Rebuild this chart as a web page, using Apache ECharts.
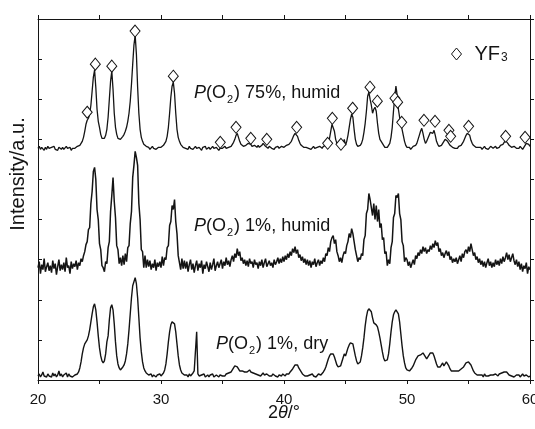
<!DOCTYPE html>
<html>
<head>
<meta charset="utf-8">
<script src="https://cdn.jsdelivr.net/npm/echarts@6/dist/echarts.min.js"></script>
<style>
html,body{margin:0;padding:0;background:#fff;}
#chart{width:535px;height:429px;}
</style>
</head>
<body>
<div id="chart"></div>
<script>
// Scan grid (2θ in degrees) used by all three patterns
const scanStart = 20;
const scanStep = 0.1;

// Plotted intensities (stacked, arbitrary units) sampled every 0.1° from 20° to 60°
const humid75 = [
231,233,230,232,231,229,232,230,233,231,
230,232,231,233,230,231,229,232,231,230,
232,230,231,233,231,230,232,229,231,232,
231,230,233,232,234,235,238,242,248,255,
259,261,265,274,288,302,309,292,270,258,
252,245,241,240,241,244,250,262,280,298,
308,290,266,252,245,241,240,240,241,243,
245,248,252,258,266,278,295,315,334,344,
325,292,266,250,242,238,235,234,233,232,
232,230,231,233,231,232,230,231,232,233,
232,233,234,235,238,243,252,266,282,293,
297,286,266,250,242,238,235,234,232,233,
231,232,230,233,231,232,230,231,233,231,
230,232,231,229,232,231,233,230,231,232,
230,231,233,231,230,232,231,229,231,232,
231,232,233,231,230,232,231,233,235,237,
240,244,246,242,238,235,234,233,232,234,
235,236,237,235,233,232,234,233,232,234,
232,233,234,236,235,233,232,231,233,232,
231,232,230,232,231,233,231,232,233,234,
232,233,234,233,235,236,238,241,244,246,
247,243,239,236,234,233,232,231,232,233,
231,232,230,231,233,231,230,232,231,233,
232,231,233,232,234,233,236,241,248,255,
256,248,240,236,234,233,232,233,236,240,
234,238,244,252,260,265,262,250,240,235,
233,232,234,236,240,247,256,268,283,287,
280,274,266,270,272,268,256,246,240,238,
236,234,232,231,232,233,236,242,252,268,
282,293,284,270,262,255,250,244,238,234,
232,231,232,230,231,233,232,234,236,240,
244,248,251,246,240,236,238,241,244,247,
248,246,249,244,238,235,233,232,234,236,
238,240,241,238,236,234,233,232,232,231,
232,231,233,232,234,236,238,241,244,246,
247,244,239,236,234,233,232,231,232,231,
232,230,231,233,231,232,230,231,233,232,
231,232,233,231,230,232,234,233,235,237,
239,238,236,234,233,232,231,233,232,231,
232,231,233,232,230,232,234,236,237,235,
233
];

const humid1 = [
112,118,106,115,110,121,108,113,117,109,
114,107,119,111,116,105,113,120,109,115,
110,117,108,122,112,114,106,118,111,116,
113,119,110,117,114,121,118,124,128,135,
138,150,152,176,188,208,212,200,170,160,
136,130,114,112,108,118,116,132,138,168,
184,202,178,162,134,130,116,122,114,124,
115,126,118,132,134,156,168,202,214,228,
222,214,176,160,130,128,112,124,112,120,
113,119,110,116,112,120,109,117,113,118,
112,123,114,122,120,132,134,154,158,174,
170,180,158,146,124,124,110,121,111,119,
111,118,108,115,120,110,116,107,114,119,
109,116,112,119,106,115,111,118,113,108,
117,110,115,121,109,114,118,112,116,120,
111,118,114,122,115,119,113,120,124,118,
126,122,131,124,128,119,122,116,120,114,
119,113,121,116,118,112,120,115,117,111,
118,114,120,112,117,121,113,116,119,114,
117,112,120,115,118,122,116,121,117,123,
118,124,120,126,122,128,124,131,127,133,
126,130,122,125,119,123,117,121,115,120,
114,119,112,118,115,121,113,117,120,114,
119,116,122,118,126,124,132,128,138,142,
144,136,140,128,124,118,122,117,124,128,
126,134,138,146,142,151,146,138,130,124,
118,122,120,126,124,140,144,166,170,186,
180,180,164,176,160,174,158,170,152,156,
140,142,126,128,114,120,116,132,138,162,
166,184,182,186,166,160,138,134,118,122,
120,114,118,112,116,120,115,124,121,127,
124,130,126,133,128,132,126,130,128,134,
130,136,132,139,134,137,128,131,124,127,
122,126,129,124,128,120,123,117,121,118,
122,116,120,124,118,126,122,128,130,126,
133,128,136,130,124,127,120,123,117,121,
115,119,113,118,112,117,121,114,118,112,
117,113,120,115,119,114,121,116,123,118,
122,127,120,125,118,122,126,119,115,120,
113,118,110,116,108,114,111,117,106,113,
110
];

const dry1 = [
4,6,3,5,8,4,5,3,6,4,
5,3,7,4,6,3,5,9,4,6,
3,5,4,7,3,6,4,5,3,4,
5,4,6,8,12,18,26,32,36,38,
40,44,50,58,66,73,76,70,58,44,
32,24,19,17,19,26,38,44,60,72,
75,70,56,38,24,16,12,10,11,13,
15,19,26,36,50,66,82,94,98,102,
96,82,62,42,28,18,12,9,7,6,
5,4,6,3,5,4,3,5,4,6,
4,5,7,10,16,26,38,48,55,58,
58,56,48,36,24,15,10,7,6,5,
4,5,3,6,4,5,7,9,8,48,
6,4,3,5,4,6,3,4,5,3,
5,4,6,3,4,5,4,3,5,6,
4,5,4,6,5,7,6,8,10,12,
14,15,13,11,9,8,9,10,8,9,
8,9,10,8,9,7,8,6,7,5,
6,4,5,7,5,4,6,5,4,5,
4,6,5,4,5,3,5,6,4,6,
5,4,6,7,6,8,9,11,13,15,
16,15,12,10,8,6,5,4,5,4,
3,5,4,6,4,5,3,4,6,5,
5,6,8,10,13,17,21,24,26,27,
26,23,19,15,13,12,14,18,22,26,
24,28,32,35,37,38,36,30,24,19,
16,15,18,24,32,42,54,63,69,71,
72,68,62,57,56,55,53,48,42,35,
28,22,19,18,20,26,36,48,58,65,
68,70,70,66,58,46,34,24,17,12,
10,9,9,10,12,14,17,20,22,24,
24,25,26,27,26,23,21,22,25,27,
28,27,24,20,16,13,12,13,15,17,
14,16,18,17,14,11,9,8,9,10,
9,8,9,10,11,12,13,15,17,18,
18,17,15,12,9,7,6,5,6,5,
4,5,3,6,4,5,4,3,5,4,
5,4,6,5,4,6,5,7,6,8,
9,8,7,5,6,4,5,3,4,5,
4,5,3,4,6,4,3,5,4,3,
4
];

// YF3 reflection markers: [2θ, plotted height]
const yf3Marks = [
[24.0,267],[24.66,315],[26.0,313],[27.89,348],[31.0,303],[34.82,237],[36.1,252],
[37.3,241],[38.6,240],[41.03,252],[43.55,236],[43.93,261],[44.63,235],[45.58,271],
[46.99,292],[47.59,278],[49.02,281],[49.24,277],[49.57,257],[51.38,259],[52.28,258],
[53.41,249],[53.55,243],[55.01,253],[58.02,243],[59.6,242]
];

// Axis ticks
const xTicks = [20, 30, 40, 50, 60];
const xMin = 20, xMax = 60, xStep = 5;
const yMin = 0, yMax = 360, yStep = 40;

// Texts
const labels = ['{i|P}(O{s|2}) 75%, humid', '{i|P}(O{s|2}) 1%, humid', '{i|P}(O{s|2}) 1%, dry'];
const yTitle = 'Intensity/a.u.';
const xTitle = '2{i|θ}/°';

function toPairs(arr) {
  return arr.map((v, i) => [Math.round((scanStart + i * scanStep) * 100) / 100, v]);
}

const FONT = '"Liberation Sans", Arial, Helvetica, sans-serif';
const INK = '#141414';

const chart = echarts.init(document.getElementById('chart'), null, {renderer: 'canvas'});

const lineSeries = (name, arr, w) => ({
  name, type: 'line', data: toPairs(arr), showSymbol: false, symbol: 'none',
  lineStyle: {color: INK, width: w}, itemStyle: {color: INK},
  animation: false, silent: true, z: 2
});

const richLabel = {
  i: {fontStyle: 'italic', fontSize: 18, fontFamily: FONT, fill: INK, lineHeight: 24},
  s: {fontSize: 11, fontFamily: FONT, fill: INK, lineHeight: 11, verticalAlign: 'bottom', padding: [0, 1, 0, 1]}
};

const option = {
  animation: false,
  backgroundColor: '#fff',
  grid: {left: 38, right: 5, top: 19, bottom: 49, containLabel: false, outerBoundsMode: 'none'},
  legend: {
    data: [{name: 'YF3', icon: 'diamond', itemStyle: {color: '#fff', borderColor: INK, borderWidth: 1}}],
    left: 446, top: 34, itemWidth: 10, itemHeight: 12, itemGap: 4,
    formatter: () => 'YF{s|3}',
    textStyle: {fontFamily: FONT, fontSize: 20, color: INK, padding: [0, 0, 0, 8],
      rich: {s: {fontSize: 12, fontFamily: FONT, color: INK, verticalAlign: 'bottom', lineHeight: 12, padding: [13, 0, 0, 1]}}}
  },
  xAxis: [{
    type: 'value', min: xMin, max: xMax, interval: xStep, position: 'bottom',
    axisLine: {show: true, onZero: false, lineStyle: {color: INK, width: 1}},
    axisTick: {show: true, inside: false, length: 4, lineStyle: {color: INK}},
    splitLine: {show: false},
    axisLabel: {color: INK, fontFamily: FONT, fontSize: 15, margin: 12, hideOverlap: false,
      showMinLabel: true, showMaxLabel: true,
      formatter: v => (xTicks.indexOf(v) >= 0 ? String(v) : '')},
    name: xTitle, nameLocation: 'middle', nameGap: 24, nameMoveOverlap: false,
    nameTextStyle: {fontFamily: FONT, fontSize: 18, color: INK,
      rich: {i: {fontStyle: 'italic', fontFamily: FONT, fontSize: 18, color: INK}}}
  }, {
    type: 'value', min: xMin, max: xMax, interval: xStep, position: 'top',
    axisLine: {show: true, onZero: false, lineStyle: {color: INK, width: 1}},
    axisTick: {show: true, inside: false, length: 4, lineStyle: {color: INK}},
    splitLine: {show: false}, axisLabel: {show: false}
  }],
  yAxis: [{
    type: 'value', min: yMin, max: yMax, interval: yStep, position: 'left',
    axisLine: {show: true, onZero: false, lineStyle: {color: INK, width: 1}},
    axisTick: {show: true, inside: true, length: 4, lineStyle: {color: INK}},
    splitLine: {show: false}, axisLabel: {show: false}
  }, {
    type: 'value', min: yMin, max: yMax, interval: yStep, position: 'right',
    axisLine: {show: true, onZero: false, lineStyle: {color: INK, width: 1}},
    axisTick: {show: true, inside: false, length: 4, lineStyle: {color: INK}},
    splitLine: {show: false}, axisLabel: {show: false}
  }],
  series: [
    lineSeries('75% humid', humid75, 1.3),
    lineSeries('1% humid', humid1, 1.5),
    lineSeries('1% dry', dry1, 1.4),
    {
      name: 'YF3', type: 'scatter', data: yf3Marks, symbol: 'diamond', symbolSize: [10, 12],
      itemStyle: {color: '#fff', borderColor: INK, borderWidth: 1, opacity: 1},
      animation: false, silent: true, z: 5
    }
  ],
  graphic: [
    {type: 'text', x: 18, y: 174, rotation: Math.PI / 2, z: 10,
      style: {text: yTitle, fill: INK, font: '20px ' + FONT, align: 'center', verticalAlign: 'middle'}},
    {type: 'text', x: 194, y: 93, z: 10, style: {text: labels[0], fill: INK, font: '18px ' + FONT, verticalAlign: 'middle', rich: richLabel}},
    {type: 'text', x: 194, y: 226, z: 10, style: {text: labels[1], fill: INK, font: '18px ' + FONT, verticalAlign: 'middle', rich: richLabel}},
    {type: 'text', x: 216, y: 344, z: 10, style: {text: labels[2], fill: INK, font: '18px ' + FONT, verticalAlign: 'middle', rich: richLabel}}
  ]
};

chart.setOption(option);
</script>
</body>
</html>
